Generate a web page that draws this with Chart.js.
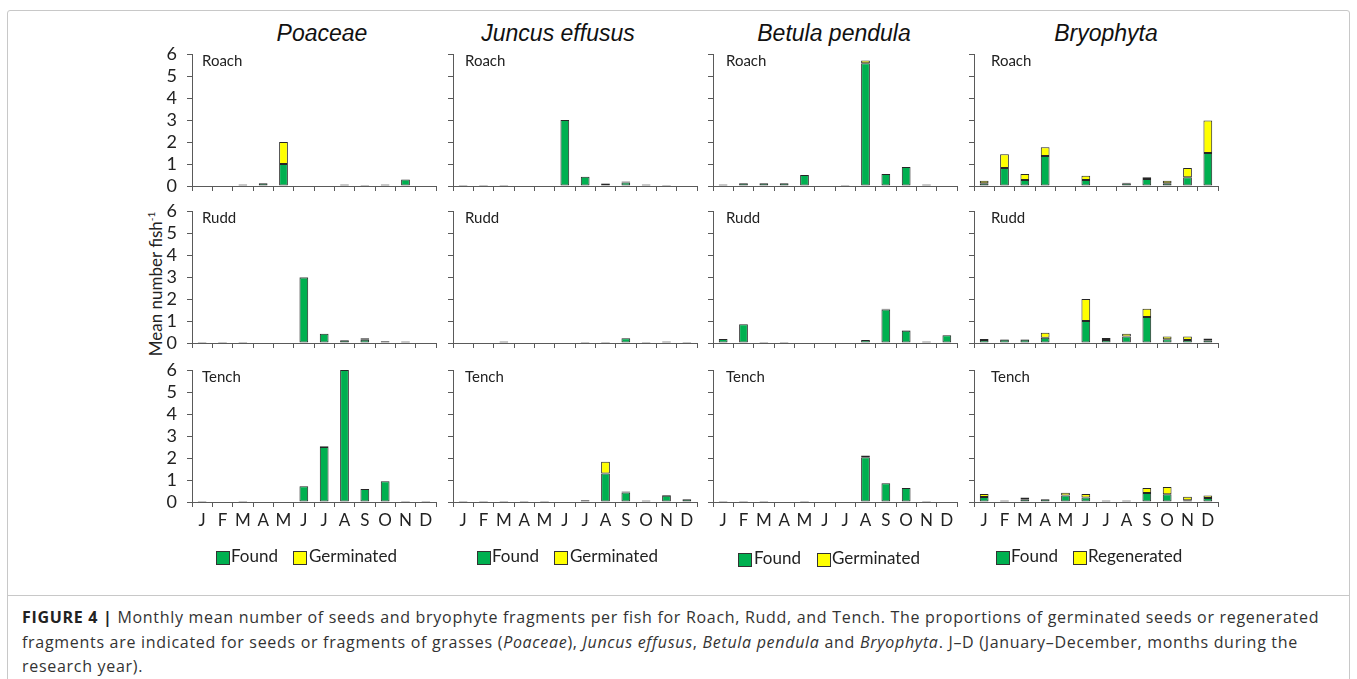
<!DOCTYPE html>
<html>
<head>
<meta charset="utf-8">
<script src="https://cdn.jsdelivr.net/npm/chart.js@4.4.1/dist/chart.umd.min.js"></script>
<style>
  html, body { margin: 0; padding: 0; background: #fff; }
  body { width: 1357px; height: 679px; position: relative; overflow: hidden; font-family: Lato, "Open Sans", sans-serif; color: #222; }
  .frame { position: absolute; left: 7px; top: 10px; width: 1341px; height: 700px; border: 1px solid #c8c8c8; border-radius: 3px; }
  .sep { position: absolute; left: 7px; top: 595px; width: 1343px; height: 0; border-top: 1px solid #c8c8c8; }
  canvas { position: absolute; }
  .title { position: absolute; top: 20px; font-family: "Liberation Sans", Arial, sans-serif; font-style: italic; font-size: 23px; color: #111; transform: translateX(-50%); white-space: nowrap; }
  .ylab { position: absolute; left: 155px; top: 284px; transform: translate(-50%, -50%) rotate(-90deg); font-size: 17px; white-space: nowrap; color: #222; }
  .ylab sup { font-size: 10px; vertical-align: 7px; }
  .sw { position: absolute; width: 12px; height: 12px; border: 1px solid #333; }
  .lt { position: absolute; font-size: 17px; line-height: 20px; white-space: nowrap; color: #222; }
  .caption { position: absolute; left: 22px; top: 605px; font-family: "Open Sans", sans-serif; font-size: 16px; letter-spacing: 0.7px; line-height: 24.5px; color: #333; white-space: nowrap; }
  .caption b { color: #222; }
</style>
</head>
<body>
<div class="frame"></div>
<div class="sep"></div>

<div class="title" style="left:322px">Poaceae</div>
<div class="title" style="left:558px">Juncus effusus</div>
<div class="title" style="left:834px">Betula pendula</div>
<div class="title" style="left:1106px">Bryophyta</div>

<div class="ylab">Mean number fish<sup>-1</sup></div>

<div id="charts"></div>
<div id="legends"></div>

<div class="caption"><b>FIGURE 4 |</b> Monthly mean number of seeds and bryophyte fragments per fish for Roach, Rudd, and Tench. The proportions of germinated seeds or regenerated<br>fragments are indicated for seeds or fragments of grasses (<i>Poaceae</i>), <i>Juncus effusus</i>, <i>Betula pendula</i> and <i>Bryophyta</i>. J–D (January–December, months during the<br>research year).</div>

<script>
// Month categories and y range
const months = ['J', 'F', 'M', 'A', 'M', 'J', 'J', 'A', 'S', 'O', 'N', 'D'];
const yMin = 0, yMax = 6, yStep = 1;

// Poaceae (mean number per fish)
const poaceaeRoachFound        = [0, 0, 0.07, 0.12, 1.0, 0, 0, 0.07, 0.05, 0.07, 0.3, 0];
const poaceaeRoachGerminated   = [0, 0, 0, 0, 1.0, 0, 0, 0, 0, 0, 0, 0];
const poaceaeRuddFound         = [0.05, 0.05, 0.05, 0, 0, 2.98, 0.42, 0.13, 0.15, 0.08, 0.07, 0];
const poaceaeRuddGerminated    = [0, 0, 0, 0, 0, 0.02, 0, 0, 0.07, 0, 0, 0];
const poaceaeTenchFound        = [0.05, 0, 0.05, 0, 0, 0.72, 2.5, 6.0, 0.59, 0.94, 0.05, 0.05];
const poaceaeTenchGerminated   = [0, 0, 0, 0, 0, 0, 0.03, 0, 0, 0, 0, 0];

// Juncus effusus
const juncusRoachFound         = [0.05, 0.05, 0.05, 0, 0, 3.0, 0.42, 0.1, 0.16, 0.07, 0.05, 0];
const juncusRoachGerminated    = [0, 0, 0, 0, 0, 0, 0, 0.02, 0.04, 0, 0, 0];
const juncusRuddFound          = [0, 0, 0.07, 0, 0, 0, 0.05, 0.05, 0.22, 0.05, 0.07, 0.05];
const juncusRuddGerminated     = [0, 0, 0, 0, 0, 0, 0, 0, 0, 0, 0, 0];
const juncusTenchFound         = [0.05, 0.05, 0.05, 0.05, 0.05, 0, 0.08, 1.3, 0.43, 0.07, 0.28, 0.12];
const juncusTenchGerminated    = [0, 0, 0, 0, 0, 0, 0, 0.53, 0.05, 0, 0.04, 0];

// Betula pendula
const betulaRoachFound         = [0.07, 0.12, 0.12, 0.12, 0.5, 0, 0.05, 5.58, 0.55, 0.86, 0.07, 0];
const betulaRoachGerminated    = [0, 0, 0, 0, 0, 0, 0, 0.12, 0, 0, 0, 0];
const betulaRuddFound          = [0.18, 0.85, 0.05, 0.05, 0, 0, 0, 0.14, 1.52, 0.56, 0.07, 0.35];
const betulaRuddGerminated     = [0, 0, 0, 0, 0, 0, 0, 0, 0.04, 0.02, 0, 0];
const betulaTenchFound         = [0.05, 0.05, 0.05, 0, 0.05, 0, 0, 2.03, 0.85, 0.64, 0.05, 0];
const betulaTenchGerminated    = [0, 0, 0, 0, 0, 0, 0, 0.08, 0, 0, 0, 0];

// Bryophyta
const bryoRoachFound           = [0.12, 0.82, 0.27, 1.36, 0, 0.27, 0, 0.13, 0.32, 0.12, 0.4, 1.5];
const bryoRoachRegenerated     = [0.12, 0.62, 0.28, 0.4, 0, 0.2, 0, 0.02, 0.08, 0.12, 0.42, 1.48];
const bryoRuddFound            = [0.14, 0.15, 0.15, 0.24, 0, 1.0, 0.14, 0.29, 1.18, 0.17, 0.14, 0.12];
const bryoRuddRegenerated      = [0.04, 0.02, 0.02, 0.23, 0, 1.0, 0.09, 0.13, 0.38, 0.12, 0.15, 0.09];
const bryoTenchFound           = [0.23, 0.07, 0.12, 0.12, 0.29, 0.2, 0.07, 0.07, 0.41, 0.35, 0.08, 0.18];
const bryoTenchRegenerated     = [0.13, 0, 0.09, 0, 0.13, 0.16, 0, 0, 0.23, 0.33, 0.16, 0.12];

const GREEN = '#00B050';
const YELLOW = '#FFFF00';
const EDGE = '#262626';
const AXIS = '#5a5a5a';
const FONT = 'Lato, "Open Sans", sans-serif';

// Plot-area geometry of the 4 x 3 grid
const colLeft = [192, 453, 713, 974];
const rowTop = [54, 211, 370];
const PLOT_W = 244, PLOT_H = 132;
const Y_W = 40, PAD_T = 26, PAD_R = 8;
const labelDx = [10, 12, 13, 17];

const panels = [
  [poaceaeRoachFound, poaceaeRoachGerminated, 'Germinated', 'Roach'],
  [juncusRoachFound, juncusRoachGerminated, 'Germinated', 'Roach'],
  [betulaRoachFound, betulaRoachGerminated, 'Germinated', 'Roach'],
  [bryoRoachFound, bryoRoachRegenerated, 'Regenerated', 'Roach'],
  [poaceaeRuddFound, poaceaeRuddGerminated, 'Germinated', 'Rudd'],
  [juncusRuddFound, juncusRuddGerminated, 'Germinated', 'Rudd'],
  [betulaRuddFound, betulaRuddGerminated, 'Germinated', 'Rudd'],
  [bryoRuddFound, bryoRuddRegenerated, 'Regenerated', 'Rudd'],
  [poaceaeTenchFound, poaceaeTenchGerminated, 'Germinated', 'Tench'],
  [juncusTenchFound, juncusTenchGerminated, 'Germinated', 'Tench'],
  [betulaTenchFound, betulaTenchGerminated, 'Germinated', 'Tench'],
  [bryoTenchFound, bryoTenchRegenerated, 'Regenerated', 'Tench']
];

// Fish name written inside the top-left corner of each panel
const panelLabel = {
  id: 'panelLabel',
  afterDraw(chart, args, opts) {
    const { ctx, chartArea } = chart;
    ctx.save();
    ctx.font = '15px ' + FONT;
    ctx.fillStyle = '#222';
    ctx.textBaseline = 'alphabetic';
    ctx.fillText(opts.text, chartArea.left + opts.dx, chartArea.top + 12);
    ctx.restore();
  }
};

const holder = document.getElementById('charts');
panels.forEach(([found, extra, extraName, fish], i) => {
  const col = i % 4, row = Math.floor(i / 4);
  const bottom = row === 2;
  const xH = bottom ? 40 : 26;
  const cv = document.createElement('canvas');
  cv.width = Y_W + PLOT_W + PAD_R;
  cv.height = PAD_T + PLOT_H + xH;
  cv.style.left = (colLeft[col] - Y_W) + 'px';
  cv.style.top = (rowTop[row] - PAD_T) + 'px';
  holder.appendChild(cv);

  const barStyle = { borderColor: EDGE, borderWidth: 1, borderSkipped: false, barPercentage: 0.43, categoryPercentage: 1 };
  new Chart(cv, {
    type: 'bar',
    data: {
      labels: months,
      datasets: [
        Object.assign({ label: 'Found', data: found, backgroundColor: GREEN }, barStyle),
        Object.assign({ label: extraName, data: extra, backgroundColor: YELLOW }, barStyle)
      ]
    },
    options: {
      responsive: false,
      animation: false,
      layout: { padding: { top: PAD_T, right: PAD_R, left: 0, bottom: 0 } },
      plugins: {
        legend: { display: false },
        tooltip: { enabled: false },
        panelLabel: { text: fish, dx: labelDx[col] }
      },
      scales: {
        x: {
          stacked: true,
          grid: { drawOnChartArea: false, drawTicks: true, tickLength: 5, color: AXIS, offset: true },
          border: { display: true, color: AXIS, width: 1 },
          ticks: { display: bottom, font: { family: FONT, size: 17 }, color: '#222', padding: 3, maxRotation: 0, autoSkip: false },
          afterFit: s => { s.height = xH; }
        },
        y: {
          stacked: true,
          min: yMin,
          max: yMax,
          grid: { drawOnChartArea: false, drawTicks: true, tickLength: 5, color: AXIS },
          border: { display: true, color: AXIS, width: 1 },
          ticks: { display: col === 0, stepSize: yStep, autoSkip: false, font: { family: FONT, size: 18 }, color: '#222', padding: 10 },
          afterFit: s => { s.width = Y_W; }
        }
      }
    },
    plugins: [panelLabel]
  });
});

// Legends under each column
const legendSpots = [
  { y: 557, g: 216, gt: 231, e: 293, et: 309, name: 'Germinated' },
  { y: 557, g: 477, gt: 492, e: 554, et: 570, name: 'Germinated' },
  { y: 559, g: 738, gt: 754, e: 817, et: 832, name: 'Germinated' },
  { y: 557, g: 996, gt: 1011, e: 1073, et: 1088, name: 'Regenerated' }
];
const lg = document.getElementById('legends');
legendSpots.forEach(s => {
  lg.insertAdjacentHTML('beforeend',
    `<div class="sw" style="left:${s.g}px;top:${s.y - 6}px;background:${GREEN}"></div>` +
    `<div class="lt" style="left:${s.gt}px;top:${s.y - 11}px">Found</div>` +
    `<div class="sw" style="left:${s.e}px;top:${s.y - 6}px;background:${YELLOW}"></div>` +
    `<div class="lt" style="left:${s.et}px;top:${s.y - 11}px">${s.name}</div>`);
});
</script>
</body>
</html>
